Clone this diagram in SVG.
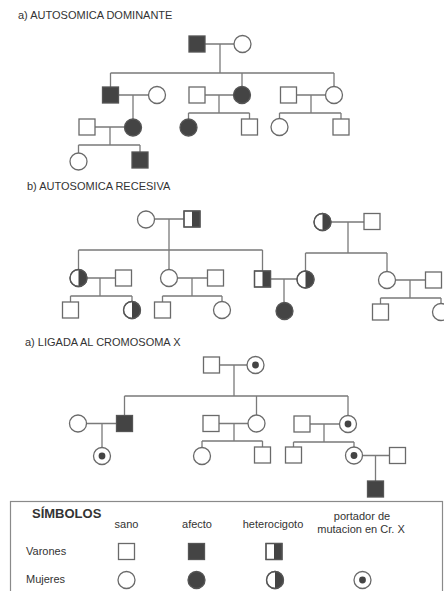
<svg xmlns="http://www.w3.org/2000/svg" xmlns:xlink="http://www.w3.org/1999/xlink" width="444" height="591" viewBox="0 0 444 591">
<style>
  text { font-family: "Liberation Sans", Arial, sans-serif; fill: #333; }
  .title { font-size: 11px; }
  .lab { font-size: 11px; }
  .bold { font-size: 13px; font-weight: bold; }
  .s { fill: #fff; stroke: #6a6a6a; stroke-width: 1.3; }
  .f { fill: #444; stroke: #555; stroke-width: 1.3; }
  .dk { fill: #444; stroke: none; }
  .ln { fill: none; stroke: #7a7a7a; stroke-width: 1.3; }
  .box { fill: none; stroke: #8a8a8a; stroke-width: 1.2; }
</style>
<defs>
  <g id="m"><rect class="s" x="-8" y="-8" width="16" height="16"/></g>
  <g id="ma"><rect class="f" x="-8" y="-8" width="16" height="16"/></g>
  <g id="mh"><rect class="s" x="-8" y="-8" width="16" height="16"/><rect class="dk" x="0" y="-8" width="8" height="16"/><rect x="-8" y="-8" width="16" height="16" fill="none" stroke="#555" stroke-width="1.3"/></g>
  <g id="fe"><circle class="s" r="8.5"/></g>
  <g id="fa"><circle class="f" r="8.5"/></g>
  <g id="fh"><circle class="s" r="8.5"/><path class="dk" d="M0,-8.5 A8.5,8.5 0 0 1 0,8.5 Z"/><circle r="8.5" fill="none" stroke="#555" stroke-width="1.3"/></g>
  <g id="fc"><circle class="s" r="8.5"/><circle class="dk" r="3.4"/></g>
</defs>

<text class="title" x="18" y="19">a) AUTOSOMICA DOMINANTE</text>
<text class="title" x="27" y="190">b) AUTOSOMICA RECESIVA</text>
<text class="title" x="25" y="346">a) LIGADA AL CROMOSOMA X</text>

<g id="connectors">
  <!-- section a -->
  <path class="ln" d="M205,44 H234 M220,44 V73 M110.5,73 H334 M110.5,73 V87 M242,73 V86.5 M334,73 V86.5"/>
  <path class="ln" d="M118.5,95 H148.5 M133,95 V119"/>
  <path class="ln" d="M95,127 H124.5 M110,127 V145 M78.5,145 H140 M78.5,145 V153 M140,145 V152"/>
  <path class="ln" d="M205,95 H233.5 M219,95 V113 M188.5,113 H249.5 M188.5,113 V119 M249.5,113 V119"/>
  <path class="ln" d="M296.5,95 H325.5 M311,95 V113 M279.5,113 H341 M279.5,113 V118.5 M341,113 V119"/>
  <!-- section b -->
  <path class="ln" d="M154.5,219 H184 M169,219 V269.5 M78.5,250 H262.5 M78.5,250 V269.5 M262.5,250 V271"/>
  <path class="ln" d="M87,278 H115.5 M100,278 V296 M70.5,296 H132 M70.5,296 V302 M132,296 V301.5"/>
  <path class="ln" d="M177.5,278 H207.5 M192,278 V296 M162.5,296 H222 M162.5,296 V302 M222,296 V301.5"/>
  <path class="ln" d="M270.5,279 H297 M284,279 V302.5"/>
  <path class="ln" d="M331,222 H364 M348,222 V253 M305.5,253 H387 M305.5,253 V271 M387,253 V271.5"/>
  <path class="ln" d="M395.5,280 H425.5 M410,280 V298 M380.5,298 H441 M380.5,298 V304 M441,298 V303.5"/>
  <!-- section c -->
  <path class="ln" d="M219.5,365 H247 M234,365 V396 M124.5,396 H348 M124.5,396 V415.5 M256.5,396 V415 M348,396 V415.5"/>
  <path class="ln" d="M86.5,423.5 H116.5 M102,423.5 V447.5"/>
  <path class="ln" d="M219,423.5 H248 M234,423.5 V441 M202,441 H262.5 M202,441 V447.5 M262.5,441 V447"/>
  <path class="ln" d="M310,424 H339.5 M324,424 V442 M293.5,442 H354 M293.5,442 V447 M354,442 V447"/>
  <path class="ln" d="M362.5,455.5 H389.5 M375.5,455.5 V481"/>
</g>

<!-- section a nodes -->
<g id="a1"><use xlink:href="#ma" x="197" y="44"/></g>
<g id="a2"><use xlink:href="#fe" x="242.5" y="44"/></g>
<g id="a3"><use xlink:href="#ma" x="110.5" y="95"/></g>
<g id="a4"><use xlink:href="#fe" x="157" y="95"/></g>
<g id="a5"><use xlink:href="#m" x="197" y="95"/></g>
<g id="a6"><use xlink:href="#fa" x="242" y="95"/></g>
<g id="a7"><use xlink:href="#m" x="288.5" y="95"/></g>
<g id="a8"><use xlink:href="#fe" x="334" y="95"/></g>
<g id="a9"><use xlink:href="#m" x="87" y="127"/></g>
<g id="a10"><use xlink:href="#fa" x="133" y="127.5"/></g>
<g id="a11"><use xlink:href="#fa" x="188.5" y="127.5"/></g>
<g id="a12"><use xlink:href="#m" x="249.5" y="127"/></g>
<g id="a13"><use xlink:href="#fe" x="279.5" y="127"/></g>
<g id="a14"><use xlink:href="#m" x="341" y="127"/></g>
<g id="a15"><use xlink:href="#fe" x="78.5" y="161.5"/></g>
<g id="a16"><use xlink:href="#ma" x="140" y="160"/></g>

<!-- section b nodes -->
<g id="b1"><use xlink:href="#fe" x="146" y="219.5"/></g>
<g id="b2"><use xlink:href="#mh" x="192" y="219"/></g>
<g id="b3"><use xlink:href="#fh" x="78.5" y="278"/></g>
<g id="b4"><use xlink:href="#m" x="123.5" y="278"/></g>
<g id="b5"><use xlink:href="#fe" x="169" y="278"/></g>
<g id="b6"><use xlink:href="#m" x="215.5" y="278"/></g>
<g id="b7"><use xlink:href="#mh" x="262.5" y="279"/></g>
<g id="b8"><use xlink:href="#fh" x="305.5" y="279.5"/></g>
<g id="b9"><use xlink:href="#fh" x="322.5" y="222"/></g>
<g id="b10"><use xlink:href="#m" x="372" y="221.5"/></g>
<g id="b11"><use xlink:href="#fe" x="387" y="280"/></g>
<g id="b12"><use xlink:href="#m" x="433.5" y="280"/></g>
<g id="b13"><use xlink:href="#m" x="70.5" y="310"/></g>
<g id="b14"><use xlink:href="#fh" x="132" y="310"/></g>
<g id="b15"><use xlink:href="#m" x="162.5" y="310"/></g>
<g id="b16"><use xlink:href="#fe" x="222" y="310"/></g>
<g id="b17"><use xlink:href="#fa" x="284.5" y="311"/></g>
<g id="b18"><use xlink:href="#m" x="380.5" y="312"/></g>
<g id="b19"><use xlink:href="#fe" x="441" y="312"/></g>

<!-- section c nodes -->
<g id="c1"><use xlink:href="#m" x="211.5" y="365"/></g>
<g id="c2"><use xlink:href="#fc" x="255.5" y="365"/></g>
<g id="c3"><use xlink:href="#fe" x="78" y="423.5"/></g>
<g id="c4"><use xlink:href="#ma" x="124.5" y="423.5"/></g>
<g id="c5"><use xlink:href="#m" x="211" y="423.5"/></g>
<g id="c6"><use xlink:href="#fe" x="256.5" y="423.5"/></g>
<g id="c7"><use xlink:href="#m" x="302" y="424"/></g>
<g id="c8"><use xlink:href="#fc" x="348" y="424"/></g>
<g id="c9"><use xlink:href="#fc" x="102" y="456"/></g>
<g id="c10"><use xlink:href="#fe" x="202" y="456"/></g>
<g id="c11"><use xlink:href="#m" x="262.5" y="455"/></g>
<g id="c12"><use xlink:href="#m" x="293.5" y="455"/></g>
<g id="c13"><use xlink:href="#fc" x="354" y="455.5"/></g>
<g id="c14"><use xlink:href="#m" x="397.5" y="455.5"/></g>
<g id="c15"><use xlink:href="#ma" x="375.5" y="489"/></g>

<!-- legend -->
<g id="legend">
  <rect class="box" x="10.5" y="501.5" width="432" height="100"/>
  <text class="bold" x="32" y="518">SÍMBOLOS</text>
  <text class="lab" x="126.5" y="528" text-anchor="middle">sano</text>
  <text class="lab" x="197" y="528" text-anchor="middle">afecto</text>
  <text class="lab" x="273" y="528" text-anchor="middle">heterocigoto</text>
  <text class="lab" x="362" y="520" text-anchor="middle">portador de</text>
  <text class="lab" x="361" y="533" text-anchor="middle">mutacion en Cr. X</text>
  <text class="lab" x="26" y="555">Varones</text>
  <text class="lab" x="26" y="583">Mujeres</text>
  <use xlink:href="#m" x="126.5" y="551.5"/>
  <use xlink:href="#ma" x="196.5" y="551.5"/>
  <use xlink:href="#mh" x="274" y="551.5"/>
  <use xlink:href="#fe" x="126.5" y="580"/>
  <use xlink:href="#fa" x="196.5" y="580"/>
  <use xlink:href="#fh" x="275" y="580"/>
  <use xlink:href="#fc" x="362.5" y="580"/>
</g>
</svg>
